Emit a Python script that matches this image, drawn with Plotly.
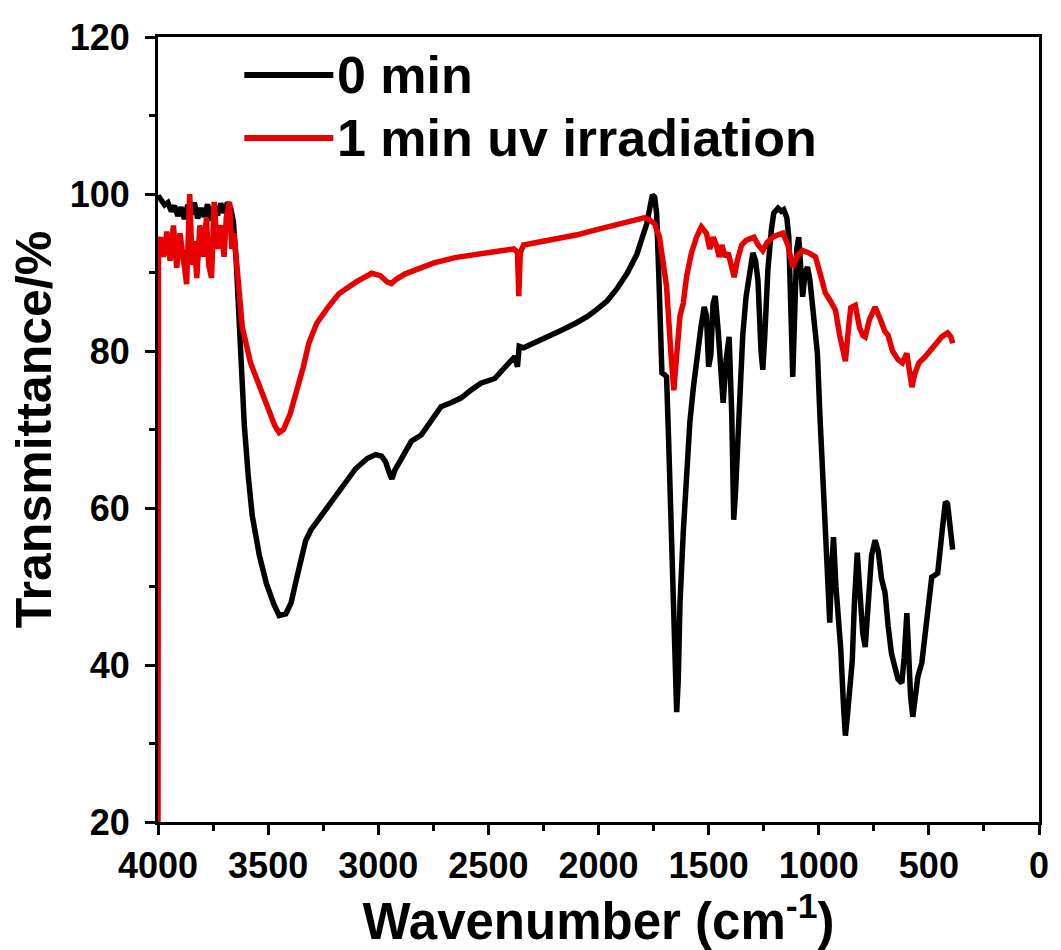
import plotly.graph_objects as go

# ---- data: 0 min (black) ----
wn_0min = [4000, 3985, 3970, 3955, 3940, 3925, 3910, 3895, 3880, 3865, 3850, 3835, 3820, 3805,
           3790, 3775, 3760, 3745, 3730, 3715, 3700, 3685, 3670, 3658, 3645, 3630, 3608, 3590,
           3572, 3540, 3508, 3475, 3450, 3420, 3396, 3375, 3351, 3330, 3306, 3265, 3224, 3160,
           3103, 3050, 3012, 2985, 2967, 2950, 2938, 2925, 2895, 2850, 2805, 2760, 2715, 2670,
           2625, 2580, 2534, 2471, 2430, 2399, 2380, 2368, 2360, 2340, 2300, 2246, 2200, 2156,
           2100, 2050, 2007, 1960, 1917, 1870, 1826, 1800, 1781, 1765, 1755, 1745, 1736, 1727,
           1718, 1712, 1700, 1691, 1682, 1669, 1660, 1652, 1645, 1638, 1630, 1615, 1601, 1585,
           1569, 1550, 1535, 1520, 1510, 1500, 1490, 1480, 1470, 1457, 1445, 1434, 1420, 1407,
           1395, 1386, 1378, 1362, 1345, 1330, 1310, 1299, 1287, 1276, 1262, 1254, 1245, 1231,
           1215, 1204, 1185, 1170, 1159, 1145, 1136, 1126, 1118, 1110, 1100, 1091, 1082, 1073,
           1062, 1051, 1040, 1028, 1015, 1006, 995, 983, 970, 960, 950, 942, 933, 922, 911, 900,
           888, 879, 870, 860, 848, 838, 825, 815, 800, 789, 775, 760, 744, 730, 715, 699, 685,
           670, 654, 640, 623, 612, 600, 592, 583, 573, 563, 550, 532, 510, 487, 470, 460, 440,
           425, 415, 405, 392]
t_0min = [99.8, 99.2, 98.6, 98.9, 97.8, 98.5, 97.2, 98.3, 96.8, 98.6, 97.4, 98.9, 96.9, 98.2,
          97.1, 98.7, 96.6, 98.4, 97.3, 98.8, 97.6, 98.9, 98.2, 96.5, 91.5, 83.0, 70.5, 64.0,
          59.0, 54.0, 50.4, 47.8, 46.3, 46.5, 47.9, 50.5, 53.5, 55.8, 57.2, 58.8, 60.3, 62.8,
          65.0, 66.3, 66.8, 66.6, 65.9, 64.5, 63.7, 64.8, 66.3, 68.5, 69.3, 71.2, 72.9, 73.4,
          74.0, 75.0, 75.9, 76.5, 77.8, 78.9, 79.3, 78.0, 80.6, 80.4, 80.9, 81.5, 82.1, 82.8,
          83.6, 84.4, 85.3, 86.4, 87.9, 89.9, 92.3, 94.3, 96.2, 98.5, 99.9, 99.6, 97.5, 90.3,
          80.0, 77.2, 77.0, 76.7, 69.0, 56.3, 44.0, 35.0, 34.0, 38.0, 47.9, 57.0, 64.8, 71.0,
          75.4, 80.0, 83.0, 85.6, 84.5, 78.0, 79.5, 86.0, 87.0, 82.7, 77.0, 73.4, 79.0, 81.8,
          72.0, 58.5, 62.0, 73.4, 82.0, 86.9, 90.5, 92.5, 91.5, 89.0, 80.0, 77.6, 82.0, 90.3,
          95.5, 97.6, 98.2, 97.8, 98.0, 97.0, 94.5, 84.0, 76.7, 84.0, 93.0, 94.5, 90.0, 86.9,
          90.0, 90.7, 89.0, 86.1, 82.0, 79.7, 72.0, 65.0, 57.6, 52.0, 45.4, 52.0, 56.3, 50.0,
          46.6, 42.0, 35.0, 31.0, 33.5, 37.0, 40.5, 48.0, 54.3, 50.0, 44.0, 42.3, 48.0, 54.0,
          55.9, 54.5, 51.0, 49.2, 45.0, 41.5, 39.7, 38.2, 37.7, 41.0, 46.6, 41.0, 36.0, 33.4,
          36.0, 38.5, 40.3, 46.0, 51.2, 51.5, 51.7, 57.0, 60.8, 60.5, 58.0, 54.7]

# ---- data: 1 min uv irradiation (red) ----
wn_1min = [4000, 3998, 3990, 3975, 3960, 3945, 3930, 3915, 3900, 3885, 3870, 3856, 3845, 3835,
           3824, 3810, 3795, 3780, 3770, 3757, 3745, 3730, 3715, 3700, 3690, 3675, 3665, 3655,
           3640, 3617, 3580, 3540, 3500, 3470, 3450, 3430, 3400, 3373, 3340, 3315, 3280, 3230,
           3179, 3100, 3030, 2990, 2960, 2940, 2920, 2880, 2832, 2750, 2652, 2550, 2458, 2385,
           2368, 2362, 2355, 2340, 2277, 2200, 2097, 2030, 1962, 1900, 1826, 1790, 1768, 1745,
           1723, 1705, 1691, 1672, 1658, 1645, 1630, 1615, 1600, 1578, 1555, 1533, 1510, 1495,
           1479, 1465, 1452, 1440, 1425, 1411, 1395, 1384, 1370, 1350, 1330, 1294, 1275, 1254,
           1235, 1209, 1185, 1163, 1140, 1125, 1118, 1100, 1073, 1045, 1015, 995, 970, 950, 924,
           905, 890, 879, 868, 855, 834, 815, 800, 789, 770, 744, 720, 700, 685, 665, 640, 620,
           600, 588, 577, 565, 545, 519, 495, 470, 442, 415, 400, 392]
t_1min = [18.0, 93.7, 94.5, 92.0, 95.2, 91.5, 96.0, 90.6, 95.0, 92.0, 88.5, 100.0, 91.0, 94.0,
          89.3, 96.0, 92.0, 97.0, 91.0, 89.3, 99.0, 93.0, 96.0, 92.0, 97.0, 99.0, 93.0, 95.0,
          90.0, 83.0, 78.5, 75.5, 72.5, 70.5, 69.6, 70.0, 72.0, 74.5, 78.0, 81.0, 83.5, 85.5,
          87.3, 88.8, 89.9, 89.6, 88.8, 88.6, 89.1, 89.8, 90.3, 91.2, 91.9, 92.4, 92.7, 93.0,
          92.6, 87.0, 92.5, 93.5, 93.8, 94.2, 94.8, 95.3, 95.8, 96.2, 96.7, 97.0, 96.7, 96.2,
          94.5, 91.5, 88.2, 80.0, 75.0, 79.5, 84.5, 86.1, 89.5, 92.5, 94.5, 95.8, 95.0, 93.0,
          94.5, 93.5, 92.0, 93.5, 92.0, 92.5, 90.5, 89.4, 91.5, 93.5, 94.1, 94.5, 93.5, 92.8,
          93.8, 94.5, 94.8, 95.0, 93.5, 91.0, 90.7, 92.0, 92.8, 92.5, 92.0, 90.0, 87.4, 86.5, 85.2,
          82.0, 79.5, 78.7, 82.0, 85.5, 85.8, 83.0, 82.0, 81.8, 84.0, 85.6, 84.0, 82.5, 82.0,
          80.0, 78.9, 78.5, 79.7, 77.0, 75.4, 77.0, 78.5, 79.2, 80.0, 81.0, 81.8, 82.3, 81.8, 81.0]

series_names = ["0 min", "1 min uv irradiation"]
series_colors = ["#000000", "#e80000"]

x_ticks = [4000, 3500, 3000, 2500, 2000, 1500, 1000, 500, 0]
y_ticks = [20, 40, 60, 80, 100, 120]

FONT = "Liberation Sans, Arial, sans-serif"

fig = go.Figure()
fig.add_trace(go.Scatter(x=wn_0min, y=t_0min, mode="lines", name=series_names[0],
                         line=dict(color=series_colors[0], width=5.5), showlegend=False))
fig.add_trace(go.Scatter(x=wn_1min, y=t_1min, mode="lines", name=series_names[1],
                         line=dict(color=series_colors[1], width=5.5), showlegend=False))

# legend drawn manually (long line samples like the original)
leg_y = [0.9516, 0.8713]
for i, (nm, col) in enumerate(zip(series_names, series_colors)):
    fig.add_shape(type="line", xref="paper", yref="paper", x0=0.098, x1=0.199,
                  y0=leg_y[i], y1=leg_y[i], line=dict(color=col, width=6))
    fig.add_annotation(xref="paper", yref="paper", x=0.201, y=leg_y[i], text=nm,
                       showarrow=False, xanchor="left", yanchor="middle",
                       font=dict(family=FONT, size=52, color="black", weight="bold"))

axis_common = dict(showline=True, linewidth=3, linecolor="black", mirror=True,
                   showgrid=False, zeroline=False, ticks="outside", ticklen=10,
                   tickwidth=3, tickcolor="black",
                   tickfont=dict(family=FONT, size=36, color="black", weight="bold"))

fig.update_layout(
    width=1061, height=950,
    margin=dict(l=158, r=16, t=37, b=128),
    paper_bgcolor="white", plot_bgcolor="white",
    xaxis=dict(range=[4000, 0], tickmode="array", tickvals=x_ticks, ticklabelstandoff=0,
               minor=dict(ticks="outside", ticklen=6, tickwidth=3, dtick=250, tick0=0,
                          tickcolor="black"),
               title=dict(text="Wavenumber (cm<sup>-1</sup>)", standoff=10,
                          font=dict(family=FONT, size=51, color="black", weight="bold")),
               **axis_common),
    yaxis=dict(range=[20, 120], tickmode="array", tickvals=y_ticks, ticklabelstandoff=8,
               minor=dict(ticks="outside", ticklen=6, tickwidth=3, dtick=10, tick0=0,
                          tickcolor="black"),
               title=dict(text="Transmittance/%", standoff=3,
                          font=dict(family=FONT, size=50, color="black", weight="bold")),
               **axis_common),
)

fig.write_html("out.html")
